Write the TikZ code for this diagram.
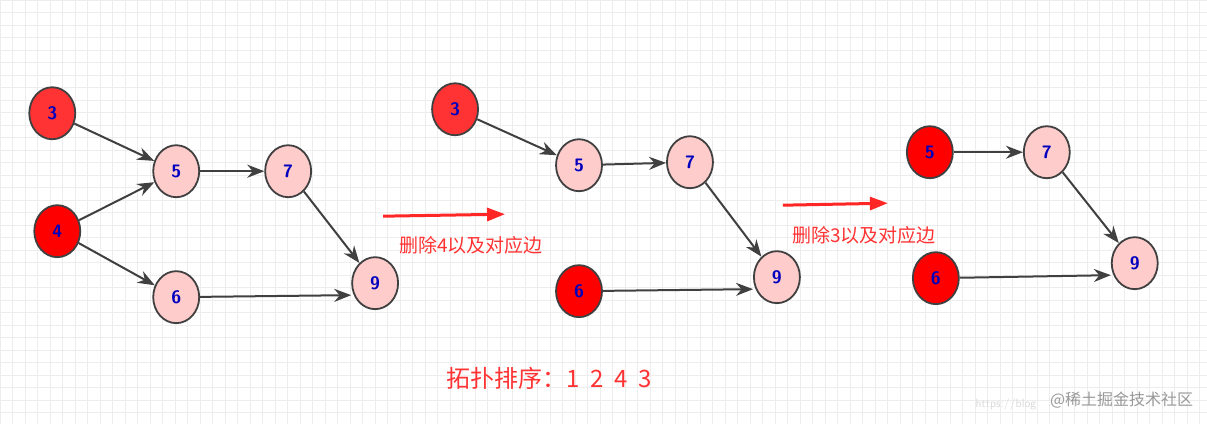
\documentclass[tikz,border=0pt]{standalone}
\usepackage{fontspec}
\newfontfamily\cjk{Noto Sans CJK SC}
\usetikzlibrary{shapes.geometric, arrows.meta}
\tikzset{
  vertex/.style={ellipse, draw=black!75, line width=1.8pt, minimum width=46pt, minimum height=52pt,
    inner sep=0pt, font=\sffamily\bfseries\fontsize{18}{18}\selectfont, text=blue!75!black},
  pinkv/.style={vertex, fill=red!20},
  redv/.style={vertex, fill=red},
  lightredv/.style={vertex, fill=red!80!white},
  line/.style={draw=black!75, line width=2pt, -{Stealth[length=17pt,width=13pt]}},
  bigarrow/.style={draw=red!85!white, line width=3pt, -{Triangle[length=18pt,width=13pt]}},
  note/.style={text=red!80!white, font=\cjk\fontsize{19}{19}\selectfont}
}
\begin{document}
\begin{tikzpicture}[x=1pt, y=-1pt]
  \fill[white] (0,0) rectangle (1207,424);
  % background grid
  \foreach \gx in {0,12.5,...,1207} \draw[black!7, line width=0.6pt] (\gx,0) -- (\gx,424);
  \foreach \gy in {0,12.5,...,424} \draw[black!7, line width=0.6pt] (0,\gy) -- (1207,\gy);
  \useasboundingbox (0,0) rectangle (1207,424);
  % Place nodes (before)
  \node [lightredv] (a3) at (52,113) {3};
  \node [redv] (a4) at (57,231) {4};
  \node [pinkv] (a5) at (176,171) {5};
  \node [pinkv] (a7) at (288,171) {7};
  \node [pinkv] (a6) at (176,297) {6};
  \node [pinkv] (a9) at (375,283) {9};
  % Place nodes (after removing 4)
  \node [lightredv] (b3) at (455,109) {3};
  \node [pinkv] (b5) at (579,165) {5};
  \node [pinkv] (b7) at (690,162) {7};
  \node [redv] (b6) at (579,291) {6};
  \node [pinkv] (b9) at (777,277) {9};
  % Place nodes (after removing 3)
  \node [redv] (c5) at (930,152) {5};
  \node [pinkv] (c7) at (1047,152) {7};
  \node [redv] (c6) at (936,278) {6};
  \node [pinkv] (c9) at (1135,263) {9};
  % Draw edges
  \path [line] (a3) -- (a5);
  \path [line] (a4) -- (a5);
  \path [line] (a4) -- (a6);
  \path [line] (a5) -- (a7);
  \path [line] (a7) -- (a9);
  \path [line] (a6) -- ([yshift=-12pt]a9.west);
  \path [line] (b3) -- (b5);
  \path [line] (b5) -- (b7);
  \path [line] (b7) -- (b9);
  \path [line] (b6) -- ([yshift=-12pt]b9.west);
  \path [line] (c5) -- (c7);
  \path [line] (c7) -- (c9);
  \path [line] (c6) -- ([yshift=-12pt]c9.west);
  % Steps
  \coordinate (s1) at (383,216);
  \coordinate (e1) at (505,214);
  \coordinate (s2) at (783,205);
  \coordinate (e2) at (888,203);
  \path [bigarrow] (s1) -- (e1);
  \path [bigarrow] (s2) -- (e2);
  \node [note] (n1) at (471,245) {删除4以及对应边};
  \node [note] (n2) at (864,235) {删除3以及对应边};
  \node [note, font=\cjk\fontsize{24}{24}\selectfont] (order) at (549,378) {拓扑排序：1\ \ 2\ \ 4\ \ 3};
  \node [text=black!40, font=\cjk\fontsize{16}{16}\selectfont, anchor=east] (mark) at (1197,400) {@稀土掘金技术社区};
  \node [text=black!15, font=\sffamily\fontsize{12}{12}\selectfont, anchor=east] (url) at (1040,404) {https://blog};
\end{tikzpicture}
\end{document}
